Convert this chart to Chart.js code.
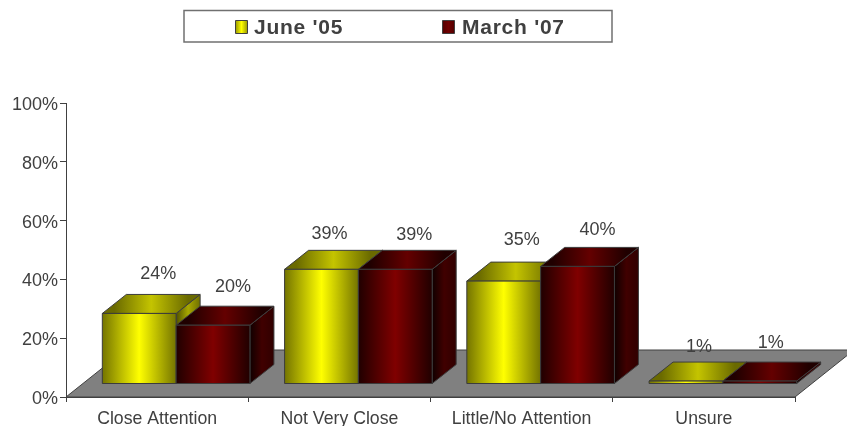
<!DOCTYPE html>
<html>
<head>
<meta charset="utf-8">
<script src="https://cdn.jsdelivr.net/npm/chart.js@4"></script>
<style>
    html, body { margin: 0; padding: 0; background: #fff; overflow: hidden; }
    canvas { display: block; }
</style>
</head>
<body>
<canvas id="chart" width="847" height="426"></canvas>
<script>
const categories = ['Close Attention', 'Not Very Close', 'Little/No Attention', 'Unsure'];
const june05 = [24, 39, 35, 1];
const march07 = [20, 39, 40, 1];
const yTicks = [0, 20, 40, 60, 80, 100];

const TEXT = '#404040';
const FONT = 'Liberation Sans, Arial, sans-serif';

// look of the two series: front, top and side gradients [edge, middle, edge]
const looks = [
    { front: ['#747400', '#ffff00', '#747400'], top: ['#6a6a00', '#c4c400', '#6a6a00'], side: ['#505000', '#a8a800', '#707000'] },
    { front: ['#200000', '#800000', '#200000'], top: ['#200000', '#640000', '#200000'], side: ['#100000', '#400000', '#300000'] }
];

// 3d offsets
const DEPTH_X = 24, DEPTH_Y = 19;      // bar depth
const BASE_X = 19, BASE_Y = 13;        // bars stand this far back on the floor
const FLOOR_X = 59, FLOOR_Y = 47;      // floor depth

// hand placement of value labels, relative to the bar's top middle
const labelNudge = [
    [[19, -39], [8, -35], [18, -41], [13, -34]],
    [[20, -38], [19, -34], [20, -36], [11, -38]]
];

const hGrad = (ctx, x0, x1, stops) => {
    const g = ctx.createLinearGradient(x0, 0, x1, 0);
    g.addColorStop(0, stops[0]);
    g.addColorStop(0.5, stops[1]);
    g.addColorStop(1, stops[2]);
    return g;
};

const poly = (ctx, pts, fill) => {
    ctx.beginPath();
    pts.forEach((p, i) => i ? ctx.lineTo(p[0], p[1]) : ctx.moveTo(p[0], p[1]));
    ctx.closePath();
    ctx.fillStyle = fill;
    ctx.fill();
    ctx.stroke();
};

const box3d = {
    id: 'box3d',
    beforeDatasetsDraw(chart) {
        // grey floor
        const { ctx, chartArea: a } = chart;
        ctx.save();
        ctx.strokeStyle = TEXT;
        ctx.lineWidth = 1;
        poly(ctx, [
            [a.left, a.bottom],
            [a.right, a.bottom],
            [a.right + FLOOR_X, a.bottom - FLOOR_Y],
            [a.left + FLOOR_X, a.bottom - FLOOR_Y]
        ], '#808080');
        ctx.restore();
    },
    afterDatasetsDraw(chart) {
        const { ctx } = chart;
        ctx.save();
        ctx.strokeStyle = '#3c3c3c';
        ctx.lineWidth = 1;
        categories.forEach((c, j) => {
            chart.data.datasets.forEach((ds, i) => {
                const bar = chart.getDatasetMeta(i).data[j];
                const look = looks[i];
                const l = bar.x - bar.width / 2 + BASE_X;
                const r = bar.x + bar.width / 2 + BASE_X;
                const t = bar.y - BASE_Y;
                const b = bar.base - BASE_Y;
                poly(ctx, [[r, t], [r + DEPTH_X, t - DEPTH_Y], [r + DEPTH_X, b - DEPTH_Y], [r, b]],
                    hGrad(ctx, r, r + DEPTH_X, look.side));
                poly(ctx, [[l, t], [l + DEPTH_X, t - DEPTH_Y], [r + DEPTH_X, t - DEPTH_Y], [r, t]],
                    hGrad(ctx, l + DEPTH_X / 2, r + DEPTH_X / 2, look.top));
                poly(ctx, [[l, t], [r, t], [r, b], [l, b]], hGrad(ctx, l, r, look.front));
            });
        });
        // value labels on top of everything
        ctx.font = `18px ${FONT}`;
        ctx.fillStyle = TEXT;
        ctx.textAlign = 'center';
        ctx.textBaseline = 'middle';
        chart.data.datasets.forEach((ds, i) => {
            chart.getDatasetMeta(i).data.forEach((bar, j) => {
                const n = labelNudge[i][j];
                ctx.fillText(ds.data[j] + '%', bar.x + BASE_X + n[0], bar.y - BASE_Y + n[1]);
            });
        });
        ctx.restore();
    },
    afterDraw(chart) {
        // legend box
        const { ctx } = chart;
        ctx.save();
        ctx.strokeStyle = '#707070';
        ctx.lineWidth = 1.5;
        ctx.fillStyle = '#fff';
        ctx.beginPath();
        ctx.rect(184, 10.5, 428, 31.5);
        ctx.fill();
        ctx.stroke();
        ctx.font = `bold 21px ${FONT}`;
        ctx.letterSpacing = '0.75px';
        ctx.textBaseline = 'middle';
        ctx.textAlign = 'left';
        const slots = [[235, 254], [442, 462]];
        chart.data.datasets.forEach((ds, i) => {
            ctx.strokeStyle = '#404040';
            ctx.lineWidth = 1;
            ctx.fillStyle = hGrad(ctx, slots[i][0], slots[i][0] + 13, i ? ['#500000', '#700000', '#500000'] : ['#909000', '#ffff00', '#909000']);
            ctx.beginPath();
            ctx.rect(slots[i][0] + 0.5, 20.5, 12, 13);
            ctx.fill();
            ctx.stroke();
            ctx.fillStyle = TEXT;
            ctx.fillText(ds.label, slots[i][1], 28);
        });
        ctx.restore();
    }
};

new Chart(document.getElementById('chart').getContext('2d'), {
    type: 'bar',
    data: {
        labels: categories,
        datasets: [
            { label: "June '05", data: june05, backgroundColor: 'transparent', categoryPercentage: 0.81, barPercentage: 1 },
            { label: "March '07", data: march07, backgroundColor: 'transparent', categoryPercentage: 0.81, barPercentage: 1 }
        ]
    },
    options: {
        responsive: false,
        animation: false,
        layout: { padding: { top: 103, right: 52, left: 0, bottom: 0 } },
        plugins: { legend: { display: false }, tooltip: { enabled: false } },
        scales: {
            y: {
                min: 0,
                max: 100,
                afterFit: s => { s.width = 66; },
                afterBuildTicks: s => { s.ticks = yTicks.map(v => ({ value: v })); },
                ticks: { callback: v => v + '%', color: TEXT, font: { family: FONT, size: 18 }, padding: 2, labelOffset: 2 },
                grid: { drawOnChartArea: false, drawTicks: true, tickLength: 6, color: TEXT },
                border: { color: TEXT, width: 1 }
            },
            x: {
                afterFit: s => { s.height = 29; },
                ticks: { color: TEXT, font: { family: FONT, size: 17.7 }, padding: 6, maxRotation: 0, autoSkip: false },
                grid: { drawOnChartArea: false, drawTicks: true, tickLength: 5, color: TEXT },
                border: { color: TEXT, width: 1 }
            }
        }
    },
    plugins: [box3d]
});
</script>
</body>
</html>
